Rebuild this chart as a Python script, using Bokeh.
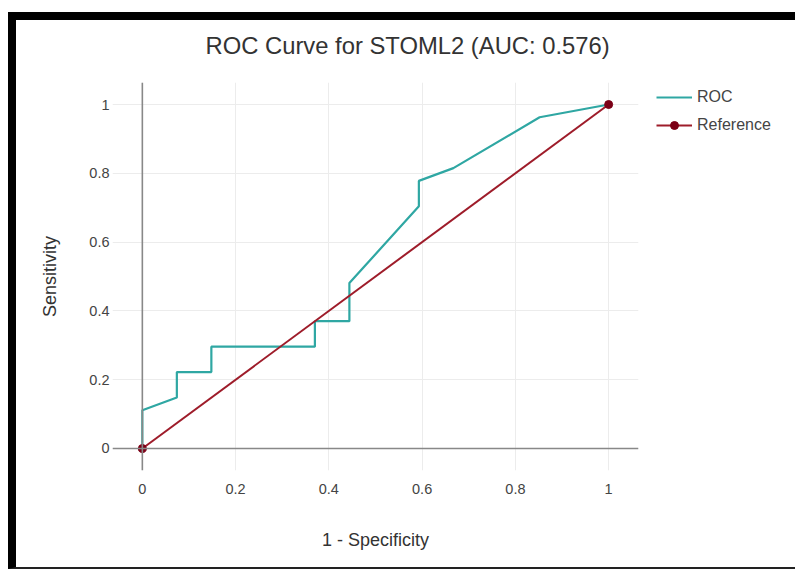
from bokeh.plotting import figure
from bokeh.models import Range1d, Span, Legend, LegendItem, FixedTicker, Title
from bokeh.embed import file_html
from bokeh.resources import INLINE

# ---- data ----
roc_fpr = [0, 0, 0.074, 0.074, 0.148, 0.148, 0.370, 0.370, 0.444, 0.444, 0.593, 0.593, 0.667, 0.852, 1.0]
roc_tpr = [0, 0.111, 0.148, 0.222, 0.222, 0.296, 0.296, 0.370, 0.370, 0.481, 0.704, 0.778, 0.815, 0.963, 1.0]
ref_x = [0, 1]
ref_y = [0, 1]
tick_values = [0, 0.2, 0.4, 0.6, 0.8, 1]
tick_labels = ["0", "0.2", "0.4", "0.6", "0.8", "1"]
series_names = ["ROC", "Reference"]
title_text = "ROC Curve for STOML2 (AUC: 0.576)"
x_title = "1 - Specificity"
y_title = "Sensitivity"

FONT = "Liberation Sans"
ROC_COLOR = "#2fa7a3"
REF_COLOR = "#9e1c2a"
REF_MARK = "#7b0016"

FW, FH = 526, 388
ML, MR, MT, MB = 96, 165, 62, 97

p = figure(frame_width=FW, frame_height=FH, output_backend="svg", toolbar_location=None,
           x_range=Range1d(-0.064, 1.064), y_range=Range1d(-0.064, 1.064),
           min_border_left=ML, min_border_right=MR, min_border_top=MT, min_border_bottom=MB)
p.styles = {"border-top": "8px solid black", "border-left": "8px solid black",
            "border-bottom": "2px solid #222", "position": "relative",
            "top": "12px", "left": "8px", "overflow": "hidden"}
p.outline_line_color = None
p.background_fill_color = "white"
p.border_fill_color = "white"

# spacer title between the main title and the frame
p.add_layout(Title(text=" ", text_font_size="1px", standoff=11), "above")

p.title.text = title_text
p.title.align = "left"
p.title.offset = 93
p.title.standoff = 19
p.title.text_font = FONT
p.title.text_font_size = "23.8px"
p.title.text_font_style = "normal"
p.title.text_color = "#333333"

for ax in (p.xaxis[0], p.yaxis[0]):
    ax.ticker = FixedTicker(ticks=tick_values)
    ax.major_label_overrides = {v: l for v, l in zip(tick_values, tick_labels)}
    ax.axis_line_color = None
    ax.major_tick_line_color = None
    ax.minor_tick_line_color = None
    ax.major_tick_out = 0
    ax.major_tick_in = 0
    ax.minor_tick_out = 0
    ax.minor_tick_in = 0
    ax.major_label_text_font = FONT
    ax.major_label_text_font_size = "14.5px"
    ax.major_label_text_color = "#444444"
    ax.axis_label_text_font = FONT
    ax.axis_label_text_font_size = "18px"
    ax.axis_label_text_font_style = "normal"
    ax.axis_label_text_color = "#333333"

p.xaxis.axis_label = x_title
p.yaxis.axis_label = y_title
p.xaxis.major_label_standoff = 13
p.xaxis.axis_label_standoff = 33
p.yaxis.major_label_standoff = 3
p.yaxis.axis_label_standoff = 26

p.xgrid.ticker = FixedTicker(ticks=tick_values)
p.ygrid.ticker = FixedTicker(ticks=tick_values)
p.grid.grid_line_color = "#ececec"
p.grid.grid_line_width = 1

p.add_layout(Span(location=0, dimension="height", line_color="#888888", line_width=1.6))
p.add_layout(Span(location=0, dimension="width", line_color="#888888", line_width=1.6))

r_roc = p.line(roc_fpr, roc_tpr, line_color=ROC_COLOR, line_width=2.2)
r_ref = p.line(ref_x, ref_y, line_color=REF_COLOR, line_width=2)
r_ref_m = p.scatter(ref_x, ref_y, marker="circle", size=8, fill_color=REF_MARK, line_color=REF_MARK)

legend = Legend(items=[LegendItem(label=series_names[0], renderers=[r_roc]),
                       LegendItem(label=series_names[1], renderers=[r_ref, r_ref_m])],
                location=(18, 335), padding=0, margin=0, spacing=8,
                glyph_width=36, glyph_height=20, label_height=20, label_standoff=5,
                border_line_color=None, background_fill_alpha=0,
                label_text_font=FONT, label_text_font_size="16px", label_text_color="#444444")
p.add_layout(legend, "right")

open("out.html", "w").write(file_html(p, INLINE))
